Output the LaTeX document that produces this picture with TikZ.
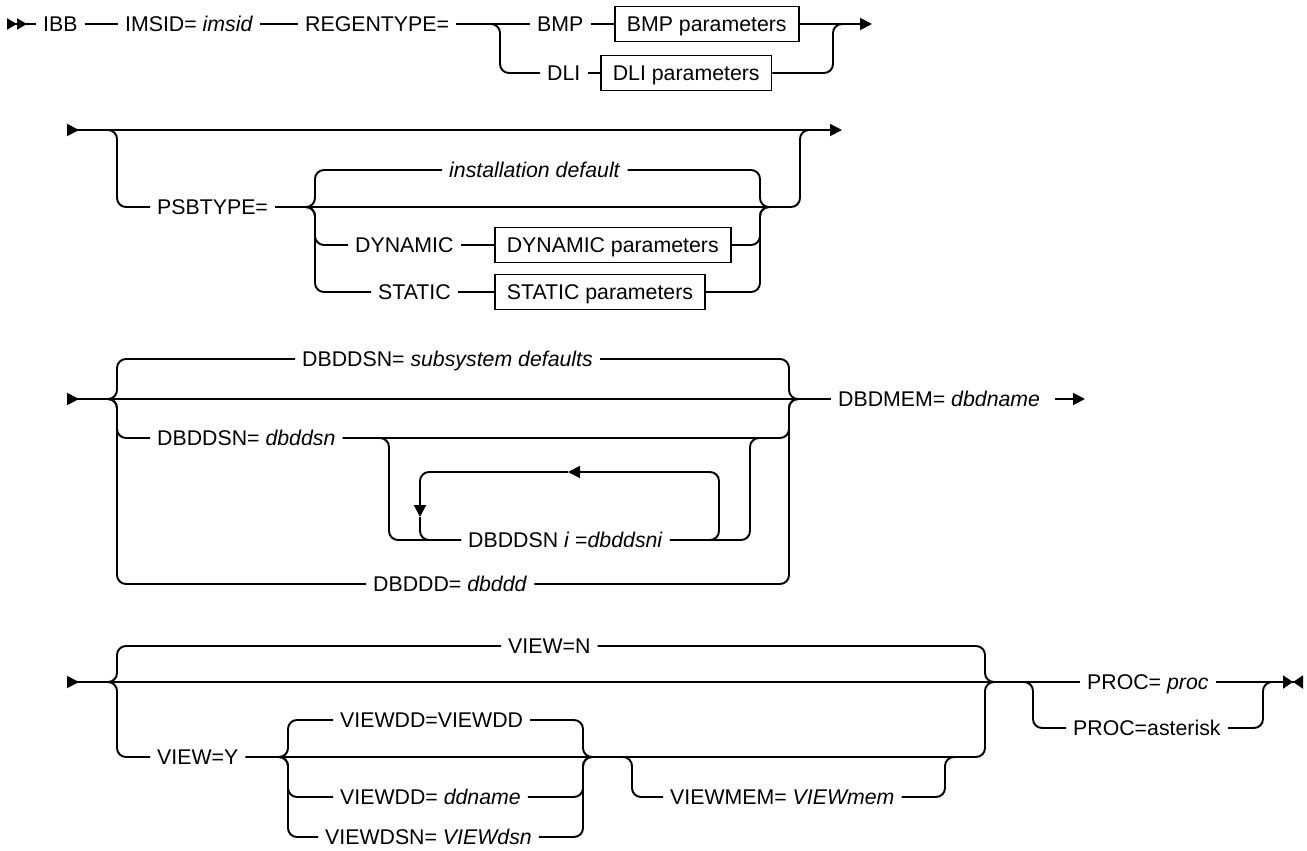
\documentclass[tikz,border=0pt]{standalone}
\usepackage{fontspec}
\setmainfont{Liberation Sans}
\usetikzlibrary{arrows.meta}

\begin{document}
\begin{tikzpicture}[
  x=1pt, y=-1pt,
  font=\fontsize{21.3}{26}\selectfont,
  kw/.style={anchor=west, inner xsep=7pt, inner ysep=0pt,
             text height=15.3pt, text depth=0pt},
  pbox/.style={kw, draw, line width=1.7pt, inner xsep=12pt, minimum height=35pt},
  rail/.style={line width=1.9pt, rounded corners=9pt},
  enter/.style={{Triangle[reversed, length=12pt, width=12pt]}-},
  enterfirst/.style={{Triangle[reversed, length=10pt, width=11pt] Triangle[reversed, length=10pt, width=11pt]}-},
  leave/.style={-{Triangle[length=12pt, width=12pt]}},
  passon/.style={{Triangle[reversed, length=12pt, width=12pt]}-{Triangle[length=12pt, width=12pt]}},
  finish/.style={-{Triangle[length=10pt, width=13pt] Triangle[reversed, length=10pt, width=13pt]}}
]
  \useasboundingbox (0,0) rectangle (1307,851);

  % row 1
  \coordinate (start1) at (7,24);
  \coordinate (fork1) at (500,24);
  \coordinate (merge1) at (833,24);
  \coordinate (end1) at (872,24);
  \node[kw] (ibb) at (36,24) {IBB};
  \node[kw] (imsid) at (118,24) {IMSID= \textit{imsid}};
  \node[kw] (regen) at (298,24) {REGENTYPE=};
  \node[kw] (bmp) at (530,24) {BMP};
  \node[pbox] (bmpbox) at (614,24) {BMP parameters};
  \node[kw] (dli) at (540,73) {DLI};
  \node[pbox] (dlibox) at (600,73) {DLI parameters};

  \draw[rail, enterfirst] (start1) -- (ibb.west);
  \draw[rail] (ibb.east) -- (imsid.west);
  \draw[rail] (imsid.east) -- (regen.west);
  \draw[rail] (regen.east) -- (bmp.west);
  \draw[rail] (bmp.east) -- (bmpbox.west);
  \draw[rail, leave] (bmpbox.east) -- (end1);
  \draw[rail] (fork1) ++(-12,0) -- (fork1) |- (dli.west);
  \draw[rail] (dli.east) -- (dlibox.west);
  \draw[rail] (dlibox.east) -| (merge1) -- ++(12,0);

  % row 2
  \coordinate (start2) at (67,130);
  \coordinate (fork2) at (117,130);
  \coordinate (merge2) at (800,130);
  \coordinate (end2) at (842,130);
  \coordinate (fork3) at (315,207);
  \coordinate (merge3) at (760,207);
  \node[kw] (psb) at (150,207) {PSBTYPE=};
  \node[kw] (instdef) at (442,170) {\textit{installation default}};
  \node[kw] (dyn) at (348,245) {DYNAMIC};
  \node[pbox] (dynbox) at (494,245) {DYNAMIC parameters};
  \node[kw] (stat) at (371,292) {STATIC};
  \node[pbox] (statbox) at (494,292) {STATIC parameters};

  \draw[rail, passon] (start2) -- (end2);
  \draw[rail] (fork2) ++(-12,0) -- (fork2) |- (psb.west);
  \draw[rail] (psb.east) -- (fork3) -- (merge3) -| (merge2) -- ++(12,0);
  \draw[rail] (fork3) ++(-12,0) -- (fork3) |- (instdef.west);
  \draw[rail] (instdef.east) -| (merge3) -- ++(12,0);
  \draw[rail] (fork3) ++(-12,0) -- (fork3) |- (dyn.west);
  \draw[rail] (dyn.east) -- (dynbox.west);
  \draw[rail] (dynbox.east) -| (merge3) -- ++(12,0);
  \draw[rail] (fork3) ++(-12,0) -- (fork3) |- (stat.west);
  \draw[rail] (stat.east) -- (statbox.west);
  \draw[rail] (statbox.east) -| (merge3) -- ++(12,0);

  % row 3
  \coordinate (start3) at (67,399);
  \coordinate (fork4) at (117,399);
  \coordinate (merge4) at (789,399);
  \coordinate (end3) at (1085,399);
  \coordinate (fork5) at (389,438);
  \coordinate (merge5) at (750,438);
  \coordinate (loopbr) at (719,540);
  \coordinate (looptop) at (568,472);
  \coordinate (loopdn) at (420,517);
  \node[kw] (subsys) at (295,359) {DBDDSN= \textit{subsystem defaults}};
  \node[kw] (dsn) at (150,438) {DBDDSN= \textit{dbddsn}};
  \node[kw] (dsni) at (461,540) {DBDDSN \textit{i} =\textit{dbddsni}};
  \node[kw] (dbddd) at (366,584) {DBDDD= \textit{dbddd}};
  \node[kw] (dbdmem) at (831,399) {DBDMEM= \textit{dbdname}};

  \draw[rail, enter] (start3) -- (merge4) -- (dbdmem.west);
  \draw[rail, leave] (dbdmem.east) ++(8,0) -- (end3);
  \draw[rail] (fork4) ++(-12,0) -- (fork4) |- (subsys.west);
  \draw[rail] (subsys.east) -| (merge4) -- ++(12,0);
  \draw[rail] (fork4) ++(-12,0) -- (fork4) |- (dsn.west);
  \draw[rail] (dsn.east) -- (merge5) -| (merge4) -- ++(12,0);
  \draw[rail] (fork5) ++(-12,0) -- (fork5) |- (dsni.west);
  \draw[rail] (dsni.east) -| (merge5) -- ++(12,0);
  \draw[rail, leave] (dsni.east) -- (loopbr) |- (looptop);
  \draw[rail, leave] (looptop) -| (loopdn);
  \draw[rail] (loopdn) |- (dsni.west);
  \draw[rail] (fork4) ++(-12,0) -- (fork4) |- (dbddd.west);
  \draw[rail] (dbddd.east) -| (merge4) -- ++(12,0);

  % row 4
  \coordinate (start4) at (67,682);
  \coordinate (fork6) at (117,682);
  \coordinate (merge6) at (985,682);
  \coordinate (fork7) at (288,757);
  \coordinate (merge7) at (583,757);
  \coordinate (fork8) at (632,757);
  \coordinate (merge8) at (945,757);
  \coordinate (fork9) at (1033,682);
  \coordinate (merge9) at (1263,682);
  \coordinate (end4) at (1303,682);
  \node[kw] (viewn) at (501,646) {VIEW=N};
  \node[kw] (viewy) at (150,757) {VIEW=Y};
  \node[kw] (vdd) at (333,720) {VIEWDD=VIEWDD};
  \node[kw] (vddn) at (333,797) {VIEWDD= \textit{ddname}};
  \node[kw] (vdsn) at (318,837) {VIEWDSN= \textit{VIEWdsn}};
  \node[kw] (vmem) at (663,797) {VIEWMEM= \textit{VIEWmem}};
  \node[kw] (proc) at (1080,682) {PROC= \textit{proc}};
  \node[kw] (procast) at (1066,728) {PROC=asterisk};

  \draw[rail, enter] (start4) -- (proc.west);
  \draw[rail, finish] (proc.east) -- (end4);
  \draw[rail] (fork6) ++(-12,0) -- (fork6) |- (viewn.west);
  \draw[rail] (viewn.east) -| (merge6) -- ++(12,0);
  \draw[rail] (fork6) ++(-12,0) -- (fork6) |- (viewy.west);
  \draw[rail] (viewy.east) -- (fork7) -- (merge7) -| (merge6) -- ++(12,0);
  \draw[rail] (fork7) ++(-12,0) -- (fork7) |- (vdd.west);
  \draw[rail] (vdd.east) -| (merge7) -- ++(12,0);
  \draw[rail] (fork7) ++(-12,0) -- (fork7) |- (vddn.west);
  \draw[rail] (vddn.east) -| (merge7) -- ++(12,0);
  \draw[rail] (fork7) ++(-12,0) -- (fork7) |- (vdsn.west);
  \draw[rail] (vdsn.east) -| (merge7) -- ++(12,0);
  \draw[rail] (fork8) ++(-12,0) -- (fork8) |- (vmem.west);
  \draw[rail] (vmem.east) -| (merge8) -- ++(12,0);
  \draw[rail] (fork9) ++(-12,0) -- (fork9) |- (procast.west);
  \draw[rail] (procast.east) -| (merge9) -- ++(12,0);
\end{tikzpicture}
\end{document}
